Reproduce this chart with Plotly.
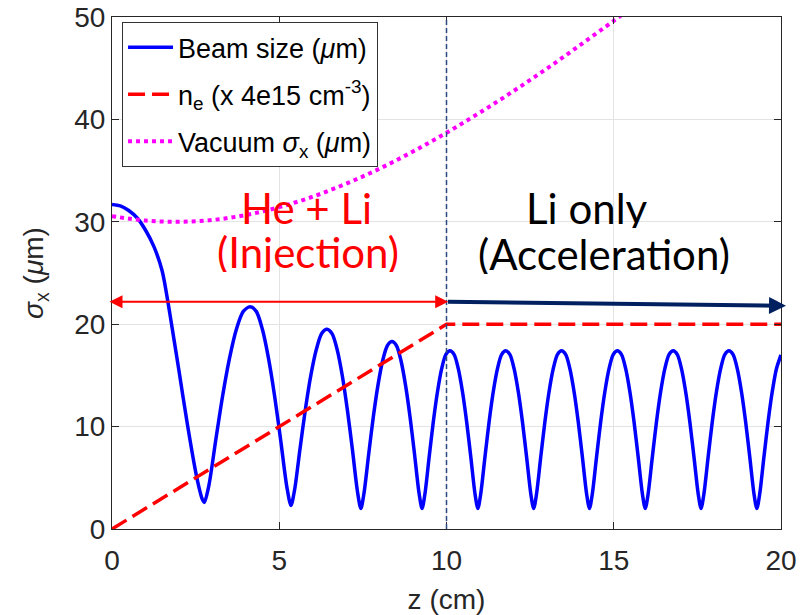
import plotly.graph_objects as go

# ---------------- data ----------------
z_beam = [
    0, 0.25, 0.5, 0.76, 1.0, 1.25, 1.5, 1.67, 1.75, 2.0, 2.25, 2.5, 2.62, 2.7, 2.76,
    2.897, 3.103, 3.308, 3.514, 3.719, 3.925, 4.13,
    4.313, 4.496, 4.679, 4.862, 5.045, 5.228, 5.35,
    5.458, 5.62, 5.782, 5.944, 6.106, 6.268, 6.43,
    6.582, 6.733, 6.885, 7.036, 7.188, 7.339, 7.44,
    7.533, 7.673, 7.812, 7.952, 8.091, 8.231, 8.37,
    8.505, 8.64, 8.775, 8.91, 9.045, 9.18, 9.27,
    9.353, 9.479, 9.604, 9.729, 9.854, 9.979, 10.104,
    10.229, 10.354, 10.479, 10.604, 10.729, 10.855, 10.938,
    11.021, 11.147, 11.272, 11.397, 11.522, 11.647, 11.772,
    11.897, 12.022, 12.147, 12.272, 12.397, 12.523, 12.606,
    12.689, 12.815, 12.94, 13.065, 13.19, 13.315, 13.44,
    13.565, 13.69, 13.815, 13.94, 14.065, 14.191, 14.274,
    14.357, 14.483, 14.608, 14.733, 14.858, 14.983, 15.108,
    15.233, 15.358, 15.483, 15.608, 15.733, 15.859, 15.942,
    16.025, 16.151, 16.276, 16.401, 16.526, 16.651, 16.776,
    16.901, 17.026, 17.151, 17.276, 17.401, 17.527, 17.61,
    17.693, 17.819, 17.944, 18.069, 18.194, 18.319, 18.444,
    18.569, 18.694, 18.819, 18.944, 19.069, 19.195, 19.278,
    19.361, 19.487, 19.612, 19.737, 19.862, 20.0]
sigma_beam = [
    31.7, 31.55, 31.1, 30.35, 29.2, 27.6, 25.2, 22.2, 20.6, 15.5, 10.3, 5.6, 3.8, 2.9, 2.6,
    4.27, 8.71, 13.02, 16.69, 19.51, 21.25, 21.7,
    21.25, 19.5, 16.66, 12.97, 8.62, 4.09, 2.3,
    3.81, 7.82, 11.7, 15.0, 17.5, 19.1, 19.5,
    19.05, 17.49, 14.96, 11.64, 7.73, 3.64, 2.0,
    3.49, 7.29, 10.94, 14.05, 16.43, 17.9, 18.3,
    17.9, 16.43, 14.05, 10.94, 7.29, 3.49, 2.0,
    3.37, 6.96, 10.42, 13.37, 15.63, 17.03, 17.4,
    17.03, 15.63, 13.37, 10.42, 6.96, 3.37, 2.0,
    3.37, 6.96, 10.42, 13.37, 15.63, 17.03, 17.4,
    17.03, 15.63, 13.37, 10.42, 6.96, 3.37, 2.0,
    3.37, 6.96, 10.42, 13.37, 15.63, 17.03, 17.4,
    17.03, 15.63, 13.37, 10.42, 6.96, 3.37, 2.0,
    3.37, 6.96, 10.42, 13.37, 15.63, 17.03, 17.4,
    17.03, 15.63, 13.37, 10.42, 6.96, 3.37, 2.0,
    3.37, 6.96, 10.42, 13.37, 15.63, 17.03, 17.4,
    17.03, 15.63, 13.37, 10.42, 6.96, 3.37, 2.0,
    3.37, 6.96, 10.42, 13.37, 15.63, 17.03, 17.4,
    17.03, 15.63, 13.37, 10.42, 6.96, 3.37, 2.0,
    3.37, 6.96, 10.42, 13.37, 15.63, 17.0]

z_ne = [0, 10, 20]
ne_scaled = [0, 20, 20]

z_vac = [0, 1, 2, 3, 4, 5, 6, 7, 8, 9, 10, 11, 12, 13, 14, 15, 15.5]
sigma_vac = [30.55, 30.12, 30.0, 30.18, 30.66, 31.43, 32.45, 33.72, 35.19,
             36.87, 38.7, 40.67, 42.76, 44.96, 47.27, 49.63, 50.84]

x_ticks = [0, 5, 10, 15, 20]
y_ticks = [0, 10, 20, 30, 40, 50]

boundary_z = 10
injection_span = [-0.12, 10.05]
injection_arrow_y = 22.2
acceleration_span = [10.0, 20.15]
acceleration_arrow_y = [22.2, 21.8]

# ---------------- figure ----------------
AX_FONT = "Liberation Sans, Arial, sans-serif"
TXT_FONT = "Lato, Open Sans, sans-serif"
DARK = "#262626"

fig = go.Figure()
fig.add_trace(go.Scatter(
    x=z_beam, y=sigma_beam, mode="lines", name="Beam size (<i>μ</i>m)",
    line=dict(color="#0000FF", width=3.5, shape="spline", smoothing=0.8),
    legendgroup="a"))
fig.add_trace(go.Scatter(
    x=z_ne, y=ne_scaled, mode="lines",
    name="n<sub>e</sub> (x 4e15 cm<sup>-3</sup>)",
    line=dict(color="#FF0000", width=3.5, dash="17px,7px"),
    legendgroup="b"))
fig.add_trace(go.Scatter(
    x=z_vac, y=sigma_vac, mode="lines",
    name="Vacuum <i>σ</i><sub>x</sub> (<i>μ</i>m)",
    line=dict(color="#FF00FF", width=4, dash="4px,4px", shape="spline"),
    legendgroup="c"))

# boundary line
fig.add_shape(type="line", xref="x", yref="y", x0=boundary_z, x1=boundary_z,
              y0=y_ticks[0], y1=y_ticks[-1],
              line=dict(color="#2B4A80", width=1.5, dash="5px,3px"))

# arrows
fig.add_annotation(x=injection_span[1], y=injection_arrow_y,
                   ax=injection_span[0], ay=injection_arrow_y,
                   xref="x", yref="y", axref="x", ayref="y", text="",
                   showarrow=True, arrowside="end+start", arrowhead=2,
                   startarrowhead=2, arrowwidth=2, arrowsize=1.3,
                   startarrowsize=1.3, arrowcolor="#FF0000")
fig.add_annotation(x=acceleration_span[1], y=acceleration_arrow_y[1],
                   ax=acceleration_span[0], ay=acceleration_arrow_y[0],
                   xref="x", yref="y", axref="x", ayref="y", text="",
                   showarrow=True, arrowhead=2, arrowwidth=4, arrowsize=0.85,
                   arrowcolor="#002060")

# region labels
for txt, xx, yy, col in [("He + Li", 5.8, 31.3, "#FF0000"),
                         ("(Injection)", 5.85, 27.1, "#FF0000"),
                         ("Li only", 14.19, 31.3, "#000000"),
                         ("(Acceleration)", 14.7, 26.9, "#000000")]:
    fig.add_annotation(x=xx, y=yy, xref="x", yref="y", text=txt,
                       showarrow=False, xanchor="center", yanchor="middle",
                       height=40, valign="middle",
                       font=dict(family=TXT_FONT, size=42, color=col))

fig.update_xaxes(range=[x_ticks[0], x_ticks[-1]], tickvals=x_ticks,
                 ticks="inside", ticklen=7, tickcolor=DARK, automargin=False,
                 showline=True, linecolor=DARK, linewidth=1, mirror="ticks",
                 showgrid=True, gridcolor="#e3e3e3", zeroline=False,
                 ticklabelstandoff=6,
                 tickfont=dict(family=AX_FONT, size=28, color=DARK),
                 title=dict(text="z (cm)", standoff=16,
                            font=dict(family=AX_FONT, size=28, color=DARK)))
fig.update_yaxes(range=[y_ticks[0], y_ticks[-1]], tickvals=y_ticks,
                 ticks="inside", ticklen=7, tickcolor=DARK, automargin=False,
                 showline=True, linecolor=DARK, linewidth=1, mirror="ticks",
                 showgrid=True, gridcolor="#e3e3e3", zeroline=False,
                 tickfont=dict(family=AX_FONT, size=28, color=DARK),
                 title=dict(text="<i>σ</i><sub>x</sub> (<i>μ</i>m)", standoff=22,
                            font=dict(family=AX_FONT, size=28, color=DARK)))

fig.update_layout(
    width=800, height=615,
    margin=dict(l=112, r=19, t=17, b=86),
    plot_bgcolor="white", paper_bgcolor="white",
    legend=dict(x=0.015, y=0.99, xanchor="left", yanchor="top",
                bgcolor="white", bordercolor="#333333", borderwidth=1,
                font=dict(family=AX_FONT, size=27, color="#000000"),
                itemwidth=45, traceorder="grouped", tracegroupgap=9),
    showlegend=True,
)

fig.write_html("out.html")
